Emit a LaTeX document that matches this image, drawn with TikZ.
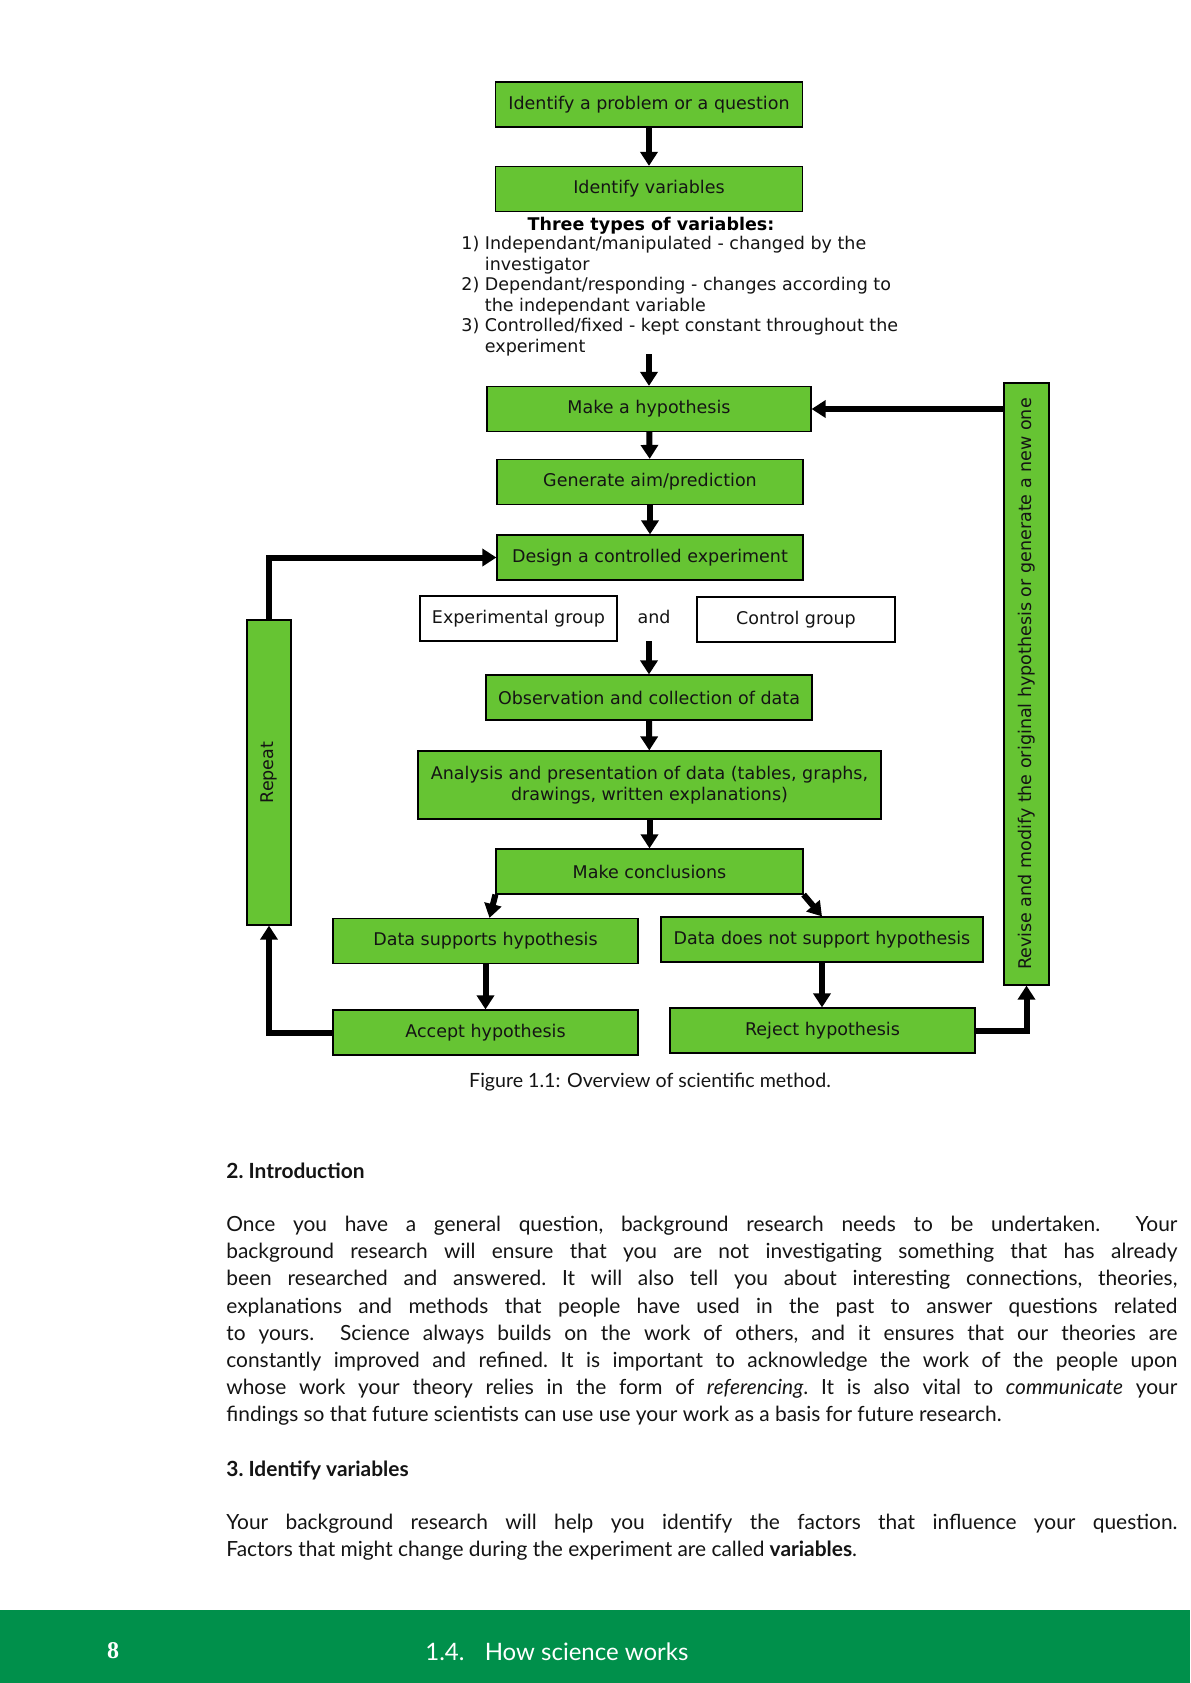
\documentclass[tikz,border=0pt]{standalone}
\usepackage{fontspec}
\setmainfont{DejaVu Sans}
\newfontfamily\bodyfont{Lato}
\newfontfamily\pagenumfont{Liberation Serif}
\usetikzlibrary{arrows.meta,calc}

\definecolor{boxgreen}{HTML}{66C433}
\definecolor{bandgreen}{HTML}{00904B}
\definecolor{inktext}{HTML}{141414}

\newcommand{\chartfont}{\fontsize{8.75}{10.3}\selectfont}
\newcommand{\prosefont}{\bodyfont\frenchspacing\fontsize{10.45}{13.55}\selectfont}

\tikzset{
  stage/.style={draw=black, line width=0.6pt, fill=boxgreen, minimum height=22.5pt,
    inner sep=0pt, font=\chartfont, text=inktext, align=center},
  groupbox/.style={stage, fill=white},
  flow/.style={line width=3pt, -{Triangle[width=8.5pt,length=7pt]}},
  listline/.style={anchor=base west, inner sep=0pt, font=\chartfont, text=inktext},
  proseline/.style={anchor=base west, inner sep=0pt, font=\prosefont, text=inktext},
}

\begin{document}
\begin{tikzpicture}[x=0.5pt,y=-0.5pt]
\useasboundingbox (0,0) rectangle (1190,1683);
\fill[white] (0,0) rectangle (1190,1683);

% ---- flow chart boxes ----
\node[stage, minimum width=153.5pt] (prob) at (649,104.5) {Identify a problem or a question};
\node[stage, minimum width=153.5pt] (vars) at (649,189) {Identify variables};

\node[anchor=base, inner sep=0pt, font=\chartfont\bfseries] (typeshead) at (651,230) {Three types of variables:};
\node[listline] (var1a) at (461,249) {1) Independant/manipulated - changed by the};
\node[listline] (var1b) at (461,270) {\hphantom{1) }investigator};
\node[listline] (var2a) at (461,290) {2) Dependant/responding - changes according to};
\node[listline] (var2b) at (461,311) {\hphantom{2) }the independant variable};
\node[listline] (var3a) at (461,331) {3) Controlled/fixed - kept constant throughout the};
\node[listline] (var3b) at (461,352) {\hphantom{3) }experiment};

\node[stage, minimum width=162pt] (hyp) at (649,409) {Make a hypothesis};
\node[stage, minimum width=153pt] (aim) at (650,482) {Generate aim/prediction};
\node[stage, minimum width=153pt] (design) at (650,557.5) {Design a controlled experiment};

\node[groupbox, minimum width=98.5pt] (expgroup) at (518.5,618.5) {Experimental group};
\node[inner sep=0pt, font=\chartfont, text=inktext] (andword) at (654,617) {and};
\node[groupbox, minimum width=99pt] (ctrlgroup) at (796,619.5) {Control group};

\node[stage, minimum width=163pt] (obs) at (649,697.5) {Observation and collection of data};
\node[stage, minimum width=231.5pt, minimum height=34pt] (anal) at (649.5,785)
  {Analysis and presentation of data (tables, graphs,\\drawings, written explanations)};
\node[stage, minimum width=153.5pt] (concl) at (649.5,871.5) {Make conclusions};

\node[stage, minimum width=152.5pt] (supp) at (485.5,941) {Data supports hypothesis};
\node[stage, minimum width=161pt] (notsupp) at (822,939.5) {Data does not support hypothesis};
\node[stage, minimum width=152.5pt] (accept) at (485.5,1032.5) {Accept hypothesis};
\node[stage, minimum width=152.5pt] (reject) at (822.5,1030.5) {Reject hypothesis};

\node[stage, minimum width=22pt, minimum height=152.5pt] (repeat) at (269,772.5) {\rotatebox{90}{Repeat}};
\node[stage, minimum width=22.5pt, minimum height=301pt] (revise) at (1026.5,684)
  {\rotatebox{90}{Revise and modify the original hypothesis or generate a new one}};

% ---- connectors ----
\coordinate (listend) at (649,354);
\coordinate (groupsend) at (649,641);
\draw[flow] (prob) -- (vars);
\draw[flow] (listend) -- (hyp);
\draw[flow] (hyp) -- (aim);
\draw[flow] (aim) -- (design);
\draw[flow] (groupsend) -- (obs);
\draw[flow] (obs) -- (anal);
\draw[flow] (anal) -- (concl);
\draw[flow] (concl.south west) -- ($(supp.north)+(4,0)$);
\draw[flow] (concl.south east) -- (notsupp.north);
\draw[flow] (supp) -- (accept);
\draw[flow] (notsupp.south) -- (notsupp.south |- reject.north);
\draw[flow] (accept.west) -| (repeat.south);
\draw[flow] (repeat.north) |- (design.west);
\draw[flow] (reject.east) -| (revise.south);
\draw[flow] (revise.west |- hyp.east) -- (hyp.east);

% ---- caption and running text ----
\node[anchor=base, inner sep=0pt, font=\bodyfont\fontsize{9.8}{12}\selectfont, text=inktext] (caption) at (650,1087)
  {Figure 1.1: Overview of scientific method.};

\node[proseline, font=\prosefont\bfseries] (introhead) at (226,1178) {2. Introduction};
\node[proseline] (intro1) at (226,1231) {\hbox to 475.5pt{Once you have a general question, background research needs to be undertaken.\ \ Your}};
\node[proseline] (intro2) at (226,1258) {\hbox to 475.5pt{background research will ensure that you are not investigating something that has already}};
\node[proseline] (intro3) at (226,1285) {\hbox to 475.5pt{been researched and answered. It will also tell you about interesting connections, theories,}};
\node[proseline] (intro4) at (226,1313) {\hbox to 475.5pt{explanations and methods that people have used in the past to answer questions related}};
\node[proseline] (intro5) at (226,1340) {\hbox to 475.5pt{to yours.\ \ Science always builds on the work of others, and it ensures that our theories are}};
\node[proseline] (intro6) at (226,1367) {\hbox to 475.5pt{constantly improved and refined. It is important to acknowledge the work of the people upon}};
\node[proseline] (intro7) at (226,1394) {\hbox to 475.5pt{whose work your theory relies in the form of \emph{referencing}. It is also vital to \emph{communicate} your}};
\node[proseline] (intro8) at (226,1421) {findings so that future scientists can use use your work as a basis for future research.};

\node[proseline, font=\prosefont\bfseries] (varshead) at (226,1476) {3. Identify variables};
\node[proseline] (vars1) at (226,1529) {\hbox to 475.5pt{Your background research will help you identify the factors that influence your question.}};
\node[proseline] (vars2) at (226,1556) {Factors that might change during the experiment are called \textbf{variables}.};

% ---- footer band ----
\fill[bandgreen] (0,1610) rectangle (1190,1683);
\node[inner sep=0pt, text=white, font=\pagenumfont\bfseries\fontsize{12}{14}\selectfont] (pagenum) at (113,1651) {8};
\node[anchor=west, inner sep=0pt, text=white, font=\bodyfont\fontsize{12}{14}\selectfont] (chapter) at (425,1652)
  {1.4.\hspace{6pt} How science works};
\end{tikzpicture}
\end{document}
